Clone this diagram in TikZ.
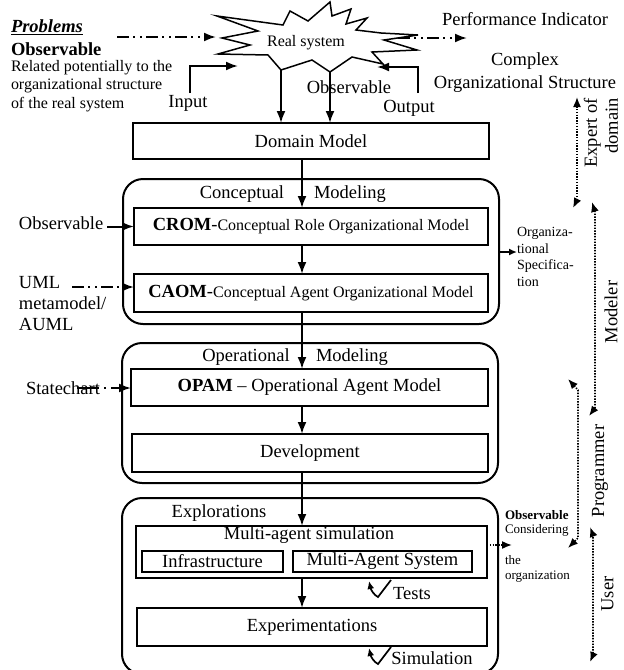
\documentclass[tikz,border=0pt]{standalone}
\usepackage{fontspec}
\setmainfont{Liberation Serif}
\usetikzlibrary{arrows.meta}

\begin{document}
\begin{tikzpicture}[x=1pt,y=-1pt,
  every node/.style={inner sep=0pt, outer sep=0pt},
  fbig/.style={font=\fontsize{18.5}{21}\selectfont},
  fmid/.style={font=\fontsize{16}{18.5}\selectfont},
  fsmall/.style={font=\fontsize{14}{16.8}\selectfont},
  ftiny/.style={font=\fontsize{13}{15}\selectfont},
  box/.style={draw, line width=1.4pt, fill=white, rectangle},
  phase/.style={draw, line width=2pt, rounded corners=20pt, rectangle},
  tipbig/.style={-{Latex[length=12pt,width=9pt]}},
  arr/.style={line width=2pt, tipbig},
  arrs/.style={line width=1.6pt, -{Latex[length=8pt,width=7pt]}},
  dasharr/.style={line width=2pt, dash pattern=on 12pt off 4pt on 2pt off 5pt on 2pt off 4pt, tipbig},
  dots/.style={line width=1.6pt, dash pattern=on 1.4pt off 1.4pt},
  dotarr/.style={dots, -{Latex[length=10pt,width=8pt]}},
  dotboth/.style={dots, {Latex[length=10pt,width=8pt]}-{Latex[length=10pt,width=8pt]}},
  tick/.style={line width=1.7pt, -{Latex[length=8pt,width=7pt]}},
  rot/.style={fbig, rotate=90}
]
\useasboundingbox (0,0) rectangle (624,670);

% ---------- real system (explosion shape) ----------
\draw[line width=1.5pt, fill=white]
  (217,16) -- (283,25) -- (290,11) -- (308,21) -- (330,2) -- (332,16) -- (351,9)
  -- (346,24) -- (367,18) -- (356,30) -- (381,33) -- (418,35) -- (384,40)
  -- (417,50) -- (372,52) -- (383,64) -- (352,57) -- (330,72) -- (312,60)
  -- (281,70) -- (268,55) -- (218,54) -- (250,45) -- (222,38) -- (258,31) -- cycle;
\node[fmid] (rs) at (306,43) {Real system};

\coordinate (rsW) at (216,37);
\coordinate (rsE) at (398,38);
\coordinate (rsIn) at (238,66);
\coordinate (rsOut) at (377,67);
\coordinate (s1) at (281,70);
\coordinate (s2) at (330,72);

% ---------- top-left notes ----------
\node[fbig, anchor=west] (prob) at (11,27) {\underline{\textbf{\textit{Problems}}}};
\node[fbig, anchor=west] (obs) at (11,49) {\textbf{Observable}};
\node[fmid, anchor=west, align=left] (rel) at (11,86)
  {Related potentially to the\\organizational structure\\of the real system};
\coordinate (obsL) at (117,37);
\draw[dasharr] (obsL) -- (rsW);

% ---------- top-right notes ----------
\node[fbig] (perf) at (525,19) {Performance Indicator};
\coordinate (perfArr) at (467,38);
\draw[dasharr] (rsE) -- (perfArr);
\node[font=\fontsize{18.5}{23}\selectfont, align=center] (cos) at (525,73)
  {Complex\\Organizational Structure};

% ---------- input / output ----------
\node[fbig] (inp) at (188,103) {Input};
\node[fbig] (outp) at (409,108) {Output};
\node[fbig] (obsmid) at (349,87) {Observable};
\coordinate (inS) at (190,93);
\coordinate (outS) at (418,93);
\draw[arr] (inS) |- (rsIn);
\draw[arr] (outS) |- (rsOut);

% ---------- domain model ----------
\node[box, fbig, minimum width=356pt, minimum height=36pt] (dm) at (311,141) {Domain Model};
\draw[arr] (s1) -- (s1 |- dm.north);
\draw[arr] (s2) -- (s2 |- dm.north);

\coordinate (spine) at (302,0);

% ---------- conceptual modeling ----------
\node[phase, minimum width=376pt, minimum height=145pt] (cm) at (311,251.5) {};
\node[fbig] (cmA) at (242,194) {Conceptual};
\node[fbig] (cmB) at (350,194) {Modeling};
\node[box, minimum width=354pt, minimum height=37pt] (crom) at (311,226.5)
  {\fontsize{18.5}{21}\selectfont\textbf{CROM}-\fontsize{16}{18}\selectfont Conceptual Role Organizational Model};
\node[box, minimum width=354pt, minimum height=38pt] (caom) at (311,293)
  {\fontsize{18.5}{21}\selectfont\textbf{CAOM}-\fontsize{16}{18}\selectfont Conceptual Agent Organizational Model};
\draw[arr] (dm.south -| spine) -- (crom.north -| spine);
\draw[arr] (crom.south -| spine) -- (caom.north -| spine);

\node[fbig, anchor=west] (obsC) at (19,223) {Observable};
\draw[arr] ([xshift=4pt]obsC.east |- crom.west) -- (crom.west);

\node[fbig, anchor=west, align=left] (uml) at (19,304) {UML\\metamodel/\\AUML};
\coordinate (umlS) at (72,287);
\draw[dasharr] (umlS) -- (umlS -| caom.west);

\node[fsmall, anchor=west, align=left] (orgspec) at (517,257)
  {Organiza-\\tional\\Specifica-\\tion};
\coordinate (osY) at (0,252);
\draw[arrs] (cm.east |- osY) -- (orgspec.west |- osY);

% ---------- operational modeling ----------
\node[phase, minimum width=376pt, minimum height=140pt] (om) at (310,413) {};
\node[fbig] (omA) at (246,357) {Operational};
\node[fbig] (omB) at (352,357) {Modeling};
\node[box, fbig, minimum width=357pt, minimum height=37pt] (opam) at (309.5,387.5)
  {\textbf{OPAM} -- Operational Agent Model};
\node[box, fbig, minimum width=356pt, minimum height=38pt] (dev) at (310,453) {Development};
\draw[arr] (caom.south -| spine) -- (opam.north -| spine);
\draw[arr] (opam.south -| spine) -- (dev.north -| spine);

\node[fbig, anchor=west] (sc) at (26,388) {Statechart};
\coordinate (scS) at (77,388);
\draw[dasharr, dash pattern=on 22pt off 5pt on 2pt off 5pt] (scS) -- (scS -| opam.west);

% ---------- explorations ----------
\node[phase, minimum width=376pt, minimum height=176pt] (ex) at (310,586) {};
\node[fbig] (exA) at (219,513) {Explorations};
\node[box, minimum width=351pt, minimum height=52pt] (mas) at (311.5,552) {};
\node[fbig] (masT) at (309,535) {Multi-agent simulation};
\node[box, fbig, minimum width=141pt, minimum height=21pt] (infra) at (212.5,561.5) {Infrastructure};
\node[box, fbig, minimum width=179pt, minimum height=21pt] (masys) at (382.5,561.5) {Multi-Agent System};
\node[box, fbig, minimum width=350pt, minimum height=38pt] (expt) at (312,627) {Experimentations};
\draw[arr] (dev.south -| spine) -- (mas.north -| spine);
\draw[arr] (mas.south -| spine) -- (expt.north -| spine);

\draw[tick] (391,580) -- (378,597) .. controls (374,595) and (371,590) .. (369,581);
\node[fbig] (tests) at (412,594) {Tests};
\draw[tick] (391,647) -- (378,664) .. controls (374,662) and (371,657) .. (369,648);
\node[fbig] (simu) at (432,658) {Simulation};

\node[ftiny, anchor=west] (obsR) at (505,515) {\textbf{Observable}};
\node[ftiny, anchor=west] (consid) at (505,530) {Considering};
\node[ftiny, anchor=west] (the) at (505,560) {the};
\node[ftiny, anchor=west] (orgn) at (505,577) {organization};
\coordinate (obsArr) at (512,545);
\draw[dotarr] (mas.east |- obsArr) -- (obsArr);

% ---------- actors ----------
\node[rot, align=right] (expert) at (601,133) {Expert of\\domain};
\draw[dotboth] (577,97) -- (577,200) -- (573,208);

\node[rot] (modeler) at (611,312) {Modeler};
\draw[dotboth] (592,202) -- (595,212) -- (595,408) -- (589,416);

\node[rot] (prog) at (600,471) {Programmer};
\draw[dotboth] (568,379) -- (578,390) -- (578,538) -- (568,548);

\node[rot] (user) at (607.5,594) {User};
\draw[dotboth] (590,527) -- (593,535) -- (593,655) -- (590,662);

\end{tikzpicture}
\end{document}
